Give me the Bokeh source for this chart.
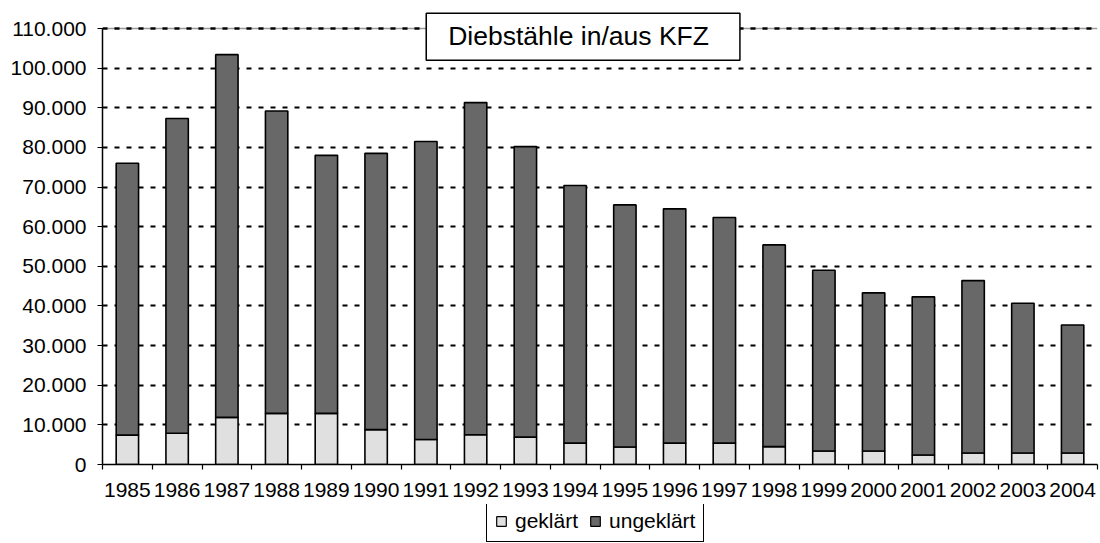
from bokeh.plotting import figure
from bokeh.layouts import column
from bokeh.models import (Range1d, FixedTicker, CustomJSTickFormatter, Legend,
                          LegendItem, Label, ColumnDataSource, Grid)
from bokeh.embed import file_html
from bokeh.resources import INLINE

# ---- data ----
years = ["1985", "1986", "1987", "1988", "1989", "1990", "1991", "1992", "1993", "1994",
         "1995", "1996", "1997", "1998", "1999", "2000", "2001", "2002", "2003", "2004"]
geklaert = [7400, 7900, 11900, 12900, 12900, 8800, 6300, 7500, 6900, 5400,
            4400, 5400, 5400, 4500, 3400, 3400, 2400, 2900, 2900, 2900]
ungeklaert = [68600, 79400, 91500, 76300, 65100, 69700, 75200, 83800, 73300, 65000,
              61100, 59100, 56900, 50900, 45600, 39900, 39900, 43500, 37800, 32300]
y_ticks = [0, 10000, 20000, 30000, 40000, 50000, 60000, 70000, 80000, 90000, 100000, 110000]
series_labels = ["geklärt", "ungeklärt"]
title_text = "Diebstähle in/aus KFZ"

FONT = "Liberation Sans"
LIGHT = "#e0e0e0"
DARK = "#686868"
BORDER_GRAY = "#9a9a9a"

n = len(years)
y_max = y_ticks[-1]
# the frame reaches the top of the canvas (so the title box is not clipped);
# the value axis ends 28px below the top as in the reference
FRAME_H = 464
PLOT_H = 436
y_top = y_max * FRAME_H / PLOT_H

xpos = [i + 0.5 for i in range(n)]
src = ColumnDataSource(dict(x=xpos, year=years, gek=geklaert, ungek=ungeklaert))

p = figure(frame_width=995, frame_height=FRAME_H, x_range=Range1d(0, n), y_range=Range1d(0, y_top),
           output_backend="svg", toolbar_location=None,
           min_border_left=102, min_border_top=0, min_border_right=3, min_border_bottom=40)
p.background_fill_color = "white"
p.border_fill_color = "white"
p.outline_line_color = None

# grid lines
p.xgrid.visible = False
p.ygrid.ticker = FixedTicker(ticks=y_ticks)
p.ygrid.grid_line_color = "black"
p.ygrid.grid_line_dash = "5 7"
p.ygrid.grid_line_width = 2

# plot-area border (top and right, grey)
top_border = Grid(dimension=1, ticker=FixedTicker(ticks=[y_max]), grid_line_color=BORDER_GRAY,
                  grid_line_width=1.5)
right_border = Grid(dimension=0, ticker=FixedTicker(ticks=[n]), bounds=(0, y_max),
                    grid_line_color=BORDER_GRAY, grid_line_width=1.5)
top_dash = Grid(dimension=1, ticker=FixedTicker(ticks=[y_max]), grid_line_color="black",
                grid_line_dash="5 7", grid_line_width=2)
p.add_layout(top_border)
p.add_layout(right_border)
p.add_layout(top_dash)

stack_kw = dict(x="x", width=0.45, source=src, fill_color=[LIGHT, DARK],
                line_color="black", line_width=1.6)
rs = p.vbar_stack(["gek", "ungek"], **stack_kw)

# y axis
p.yaxis.ticker = FixedTicker(ticks=y_ticks)
p.yaxis.bounds = (0, y_max)
p.yaxis.formatter = CustomJSTickFormatter(
    code="return Math.round(tick).toString().replace(/\\B(?=(\\d{3})+(?!\\d))/g, '.');")
p.yaxis.major_label_text_font = FONT
p.yaxis.major_label_text_font_size = "21px"
p.yaxis.major_label_text_color = "black"
p.yaxis.major_tick_in = 0
p.yaxis.major_tick_out = 5
p.yaxis.minor_tick_line_color = None
p.yaxis.major_label_standoff = 11
p.yaxis.axis_line_color = "black"
p.yaxis.axis_line_width = 1.5
p.yaxis.major_tick_line_width = 1.2

# x axis: labels at bar centres, tick marks at category boundaries
p.xaxis.ticker = FixedTicker(ticks=xpos, minor_ticks=list(range(n + 1)))
p.xaxis.formatter = CustomJSTickFormatter(args=dict(years=years),
                                          code="return years[Math.floor(tick)];")
p.xaxis.major_label_text_font = FONT
p.xaxis.major_label_text_font_size = "21px"
p.xaxis.major_label_text_color = "black"
p.xaxis.major_tick_in = 0
p.xaxis.major_tick_out = 0
p.xaxis.major_tick_line_color = None
p.xaxis.minor_tick_in = 0
p.xaxis.minor_tick_out = 5
p.xaxis.minor_tick_line_color = "black"
p.xaxis.minor_tick_line_width = 1.2
p.xaxis.major_label_standoff = 13
p.xaxis.axis_line_color = "black"
p.xaxis.axis_line_width = 1.5

# title box
title = Label(x=6.507, y=113860, text=title_text, text_font=FONT, text_font_size="26.5px",
              text_color="black", text_align="left", text_baseline="top",
              background_fill_color="white", border_line_color="black", border_line_width=1.5,
              padding=dict(left=22, right=31, top=8, bottom=9))
p.add_layout(title)

# legend strip below the chart (its frame is aligned with the chart's frame);
# the stacked bars are repeated there as hidden renderers so the legend has real swatches
lg = figure(width=1100, height=39, x_range=Range1d(0, n), y_range=Range1d(-2, -1),
            output_backend="svg", toolbar_location=None, min_border=0,
            x_axis_location=None, y_axis_location=None)
lg.outline_line_color = None
lg.background_fill_color = "white"
lg.border_fill_color = "white"
lg.grid.visible = False
rs2 = lg.vbar_stack(["gek", "ungek"], **stack_kw)
for r in rs2:
    r.glyph.line_width = 1.2
    r.visible = False
legend = Legend(items=[LegendItem(label=series_labels[0], renderers=[rs2[0]]),
                       LegendItem(label=series_labels[1], renderers=[rs2[1]])],
                orientation="horizontal", location=(384, 1),
                label_text_font=FONT, label_text_font_size="21px", label_text_color="black",
                glyph_width=12, glyph_height=12, label_standoff=8, spacing=11,
                padding=8, margin=0, border_line_color="black", border_line_width=1,
                border_line_alpha=1, background_fill_color="white", background_fill_alpha=1)
lg.add_layout(legend)

layout = column(p, lg, spacing=0)
open("out.html", "w").write(file_html(layout, INLINE))
